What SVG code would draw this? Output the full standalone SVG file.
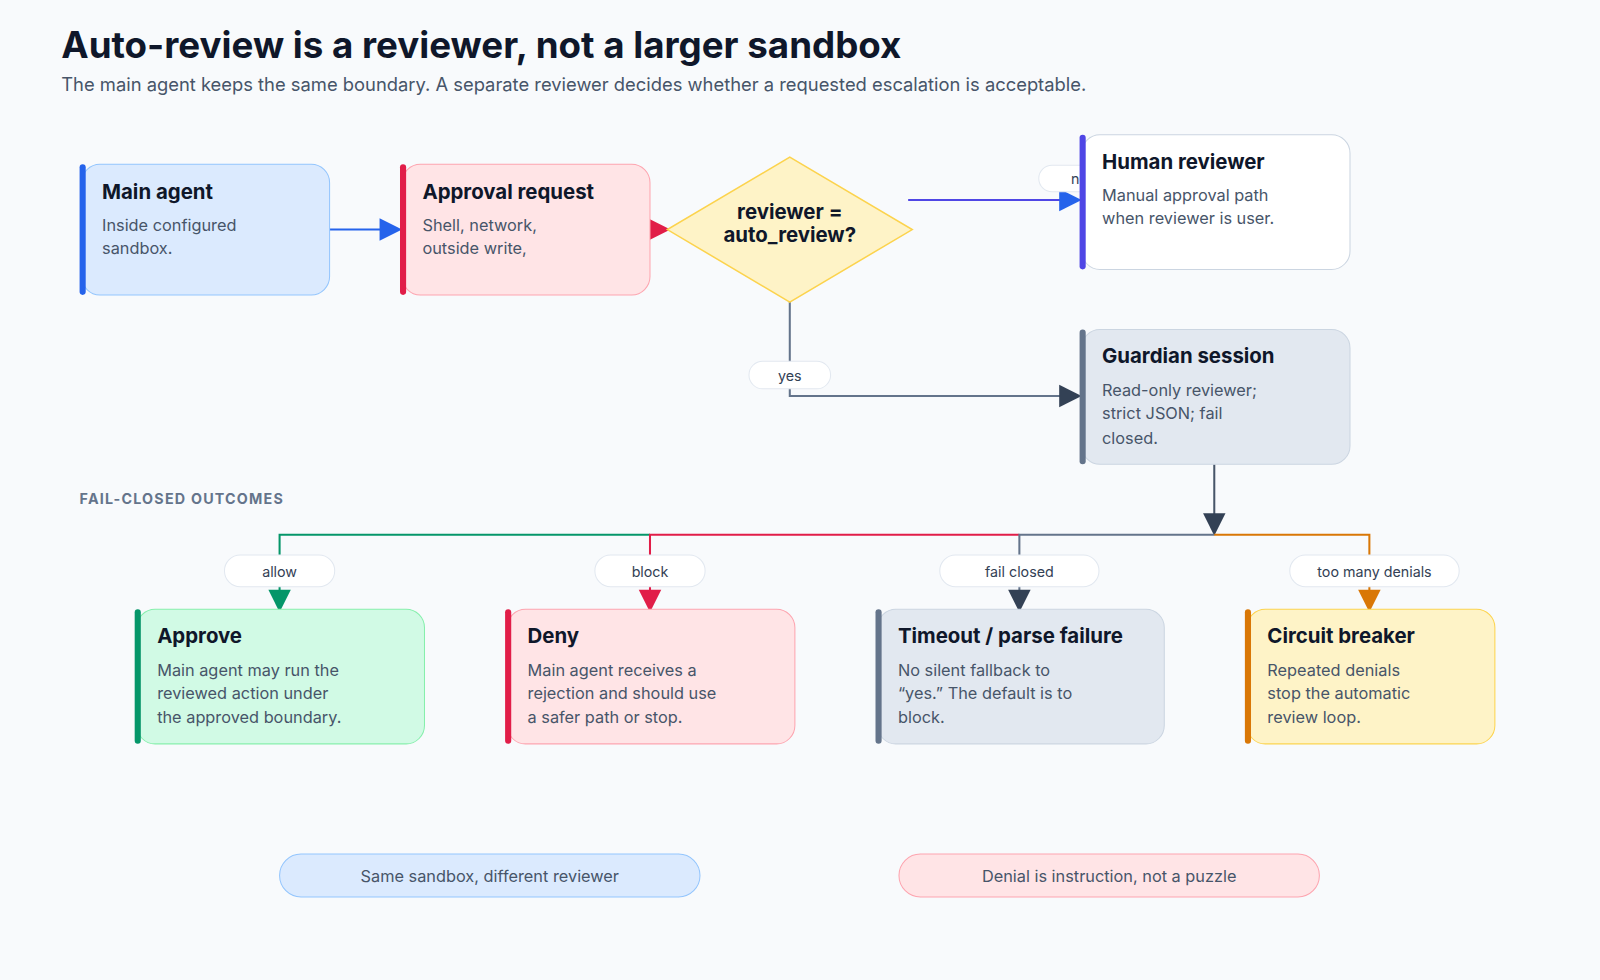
<svg xmlns="http://www.w3.org/2000/svg" width="1600" height="980" viewBox="0 0 1600 980">
<defs>
<style>
text{font-family:Inter,"Noto Sans","Liberation Sans",sans-serif}
.t{font-size:20px;font-weight:700;fill:#0f172a}
.b{font-size:16px;fill:#475569}
.pl{fill:#fff;stroke:#e2e8f0;stroke-width:1}
.pt{font-size:14px;fill:#334155;text-anchor:middle}
.ln{fill:none;stroke-width:2}
</style>
<marker id="aB" viewBox="0 0 10 10" refX="10" refY="5" markerWidth="11" markerHeight="11" markerUnits="userSpaceOnUse" orient="auto"><path d="M0 0L10 5L0 10z" fill="#2563eb"/></marker>
</defs>
<rect width="1600" height="980" fill="#f8fafc"/>
<g transform="scale(1.0204)">
<text x="60" y="57" font-size="36" font-weight="700" fill="#0f172a">Auto-review is a reviewer, not a larger sandbox</text>
<text x="60" y="89" font-size="18" fill="#475569">The main agent keeps the same boundary. A separate reviewer decides whether a requested escalation is acceptable.</text>
<text x="78" y="494" font-size="14" font-weight="700" fill="#64748b" letter-spacing="1.2">FAIL-CLOSED OUTCOMES</text>

<g id="connectors">
<path class="ln" d="M323 225H375" stroke="#2563eb"/><path d="M372 214L394 225L372 236z" fill="#2563eb"/>
<path d="M635 214L657 225L635 236z" fill="#e11d48"/>
<path class="ln" d="M890 196H1040" stroke="#4f46e5"/><path d="M1038 185L1060 196L1038 207z" fill="#2563eb"/>
<path class="ln" d="M774 296V388H1040" stroke="#64748b"/><path d="M1038 377L1060 388L1038 399z" fill="#334155"/>
<path class="ln" d="M1190 455V505" stroke="#475569"/><path d="M1179 503L1190 525L1201 503z" fill="#334155"/>
<path class="ln" d="M274 580V524H637" stroke="#059669"/>
<path class="ln" d="M637 580V524H999" stroke="#e11d48"/>
<path class="ln" d="M999 580V524H1190" stroke="#64748b"/>
<path class="ln" d="M1190 524H1342V580" stroke="#d97706"/>
<path d="M263 578L274 600L285 578z" fill="#059669"/>
<path d="M626 578L637 600L648 578z" fill="#e11d48"/>
<path d="M988 578L999 600L1010 578z" fill="#334155"/>
<path d="M1331 578L1342 600L1353 578z" fill="#d97706"/>
<rect class="pl" x="1018" y="162" width="80" height="26" rx="13"/><text class="pt" x="1058" y="180">no</text>
<rect class="pl" x="734" y="354" width="80" height="27" rx="13.5"/><text class="pt" x="774" y="373">yes</text>
<rect class="pl" x="220" y="544" width="108" height="31" rx="15.5"/><text class="pt" x="274" y="565">allow</text>
<rect class="pl" x="583" y="544" width="108" height="31" rx="15.5"/><text class="pt" x="637" y="565">block</text>
<rect class="pl" x="921" y="544" width="156" height="31" rx="15.5"/><text class="pt" x="999" y="565">fail closed</text>
<rect class="pl" x="1264" y="544" width="166" height="31" rx="15.5"/><text class="pt" x="1347" y="565">too many denials</text>
</g>

<g id="main"><rect x="80" y="161" width="243" height="128" rx="18" fill="#dbeafe" stroke="#93c5fd"/><rect x="78" y="161" width="6" height="128" rx="3" fill="#2563eb"/>
<text class="t" x="100" y="195">Main agent</text><text class="b" x="100" y="226">Inside configured</text><text class="b" x="100" y="249">sandbox.</text></g>
<g id="approval"><rect x="394" y="161" width="243" height="128" rx="18" fill="#ffe4e6" stroke="#fda4af"/><rect x="392" y="161" width="6" height="128" rx="3" fill="#e11d48"/>
<text class="t" x="414" y="195">Approval request</text><text class="b" x="414" y="226">Shell, network,</text><text class="b" x="414" y="249">outside write,</text></g>
<g id="decision"><path d="M774 154L894 225L774 296L654 225z" fill="#fef3c7" stroke="#fcd34d" stroke-width="1.5"/>
<text class="t" x="774" y="215" text-anchor="middle">reviewer =</text><text class="t" x="774" y="237" text-anchor="middle">auto_review?</text></g>
<g id="human"><rect x="1060" y="132" width="263" height="132" rx="18" fill="#fff" stroke="#cbd5e1"/><rect x="1058" y="132" width="6" height="132" rx="3" fill="#4f46e5"/>
<text class="t" x="1080" y="166">Human reviewer</text><text class="b" x="1080" y="197">Manual approval path</text><text class="b" x="1080" y="220">when reviewer is user.</text></g>
<g id="guardian"><rect x="1060" y="323" width="263" height="132" rx="18" fill="#e2e8f0" stroke="#cbd5e1"/><rect x="1058" y="323" width="6" height="132" rx="3" fill="#64748b"/>
<text class="t" x="1080" y="356">Guardian session</text><text class="b" x="1080" y="388">Read-only reviewer;</text><text class="b" x="1080" y="411">strict JSON; fail</text><text class="b" x="1080" y="435">closed.</text></g>
<g id="approve"><rect x="134" y="597" width="282" height="132" rx="18" fill="#d1fae5" stroke="#86efac"/><rect x="132" y="597" width="6" height="132" rx="3" fill="#059669"/>
<text class="t" x="154" y="630">Approve</text><text class="b" x="154" y="662">Main agent may run the</text><text class="b" x="154" y="685">reviewed action under</text><text class="b" x="154" y="709">the approved boundary.</text></g>
<g id="deny"><rect x="497" y="597" width="282" height="132" rx="18" fill="#ffe4e6" stroke="#fda4af"/><rect x="495" y="597" width="6" height="132" rx="3" fill="#e11d48"/>
<text class="t" x="517" y="630">Deny</text><text class="b" x="517" y="662">Main agent receives a</text><text class="b" x="517" y="685">rejection and should use</text><text class="b" x="517" y="709">a safer path or stop.</text></g>
<g id="timeout"><rect x="860" y="597" width="281" height="132" rx="18" fill="#e2e8f0" stroke="#cbd5e1"/><rect x="858" y="597" width="6" height="132" rx="3" fill="#64748b"/>
<text class="t" x="880" y="630">Timeout / parse failure</text><text class="b" x="880" y="662">No silent fallback to</text><text class="b" x="880" y="685">“yes.” The default is to</text><text class="b" x="880" y="709">block.</text></g>
<g id="circuit"><rect x="1222" y="597" width="243" height="132" rx="18" fill="#fef3c7" stroke="#fcd34d"/><rect x="1220" y="597" width="6" height="132" rx="3" fill="#d97706"/>
<text class="t" x="1242" y="630">Circuit breaker</text><text class="b" x="1242" y="662">Repeated denials</text><text class="b" x="1242" y="685">stop the automatic</text><text class="b" x="1242" y="709">review loop.</text></g>
<g id="note1"><rect x="274" y="837" width="412" height="42" rx="21" fill="#dbeafe" stroke="#93c5fd"/><text class="b" x="480" y="864" text-anchor="middle">Same sandbox, different reviewer</text></g>
<g id="note2"><rect x="881" y="837" width="412" height="42" rx="21" fill="#ffe4e6" stroke="#fda4af"/><text class="b" x="1087" y="864" text-anchor="middle">Denial is instruction, not a puzzle</text></g>
</g>
</svg>
